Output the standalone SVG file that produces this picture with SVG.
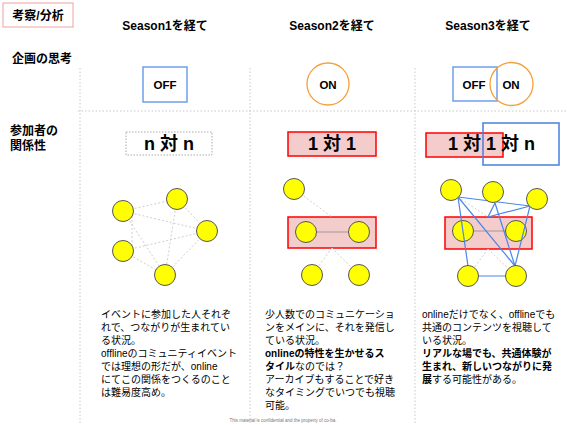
<svg xmlns="http://www.w3.org/2000/svg" width="567" height="425" viewBox="0 0 567 425">
<style>
text{font-family:"Liberation Sans","Noto Sans CJK JP",sans-serif;fill:#000}
.h{font-weight:bold;font-size:12px}
.big{font-weight:bold;font-size:18px}
.sw{font-weight:bold;font-size:11.5px}
.body{font-size:10px}
.b{font-weight:bold}
.div{stroke:#c8c8c8;stroke-width:1;stroke-dasharray:1.5,2;fill:none}
.node{fill:#ffff00;stroke:#555;stroke-width:1}
.dot{stroke:#cfcfcf;stroke-width:1;stroke-dasharray:2,2;fill:none}
.solid{stroke:#9a9a9a;stroke-width:1;fill:none}
.blue{stroke:#4a86e8;stroke-width:1.2;fill:none}
.pink{fill:#f4cccc;stroke:#ff0000;stroke-width:1.5}
</style>
<rect width="567" height="425" fill="#fff"/>
<g id="grid">
<line class="div" x1="80" y1="68" x2="80" y2="425"/>
<line class="div" x1="250" y1="68" x2="250" y2="425"/>
<line class="div" x1="415" y1="68" x2="415" y2="425"/>
<line class="div" x1="78" y1="111" x2="567" y2="111"/>
</g>
<g id="title">
<rect x="3" y="3" width="70" height="24" fill="#fff" stroke="#f0a0a0" stroke-width="1"/>
<text class="h" x="38" y="20" text-anchor="middle">考察/分析</text>
</g>
<g id="headers">
<text class="h" x="165" y="30" text-anchor="middle">Season1を経て</text>
<text class="h" x="332" y="30" text-anchor="middle">Season2を経て</text>
<text class="h" x="488" y="30" text-anchor="middle">Season3を経て</text>
<text class="h" x="12" y="63">企画の思考</text>
<text class="h" x="10" y="135">参加者の</text>
<text class="h" x="10" y="150">関係性</text>
</g>
<g id="s1-off">
<rect x="143" y="67" width="44" height="35" fill="#fff" stroke="#6d9eeb" stroke-width="1.5"/>
<text class="sw" x="165" y="88.5" text-anchor="middle">OFF</text>
</g>
<g id="s2-on">
<circle cx="328" cy="84" r="21" fill="#fff" stroke="#f6a03a" stroke-width="1.3"/>
<text class="sw" x="328" y="88.5" text-anchor="middle">ON</text>
</g>
<g id="s3-offon">
<rect x="453" y="67" width="44" height="34" fill="#fff" stroke="#6d9eeb" stroke-width="1.5"/>
<circle cx="511.5" cy="84" r="21.5" fill="none" stroke="#f6a03a" stroke-width="1.3"/>
<text class="sw" x="474" y="88.5" text-anchor="middle">OFF</text>
<text class="sw" x="511" y="88.5" text-anchor="middle">ON</text>
</g>
<g id="s1-label">
<rect x="126" y="132" width="86" height="23" fill="#fff" stroke="#aaa" stroke-width="1" stroke-dasharray="1.5,1.5"/>
<text class="big" x="169" y="150" text-anchor="middle">n 対 n</text>
</g>
<g id="s2-label">
<rect class="pink" x="288" y="132" width="88" height="24"/>
<text class="big" x="332" y="150" text-anchor="middle">1 対 1</text>
</g>
<g id="s3-label">
<rect class="pink" x="426" y="133" width="77" height="24"/>
<rect x="483" y="123" width="76" height="42" fill="none" stroke="#4a7fe0" stroke-width="1.5"/>
<text class="big" x="448" y="150">1 対 1 対 n</text>
</g>
<g id="s2-pair">
<rect class="pink" x="288" y="217" width="88" height="31"/>
</g>
<g id="s3-pair">
<rect class="pink" x="445" y="217" width="87" height="32"/>
</g>
<g id="connectors">
<line class="dot" x1="123" y1="211" x2="177" y2="199"/>
<line class="dot" x1="123" y1="211" x2="207" y2="231"/>
<line class="dot" x1="132" y1="216" x2="132" y2="246"/>
<line class="dot" x1="123" y1="211" x2="165" y2="275"/>
<line class="dot" x1="177" y1="199" x2="207" y2="231"/>
<line class="dot" x1="177" y1="199" x2="165" y2="275"/>
<line class="dot" x1="207" y1="231" x2="123" y2="251"/>
<line class="dot" x1="207" y1="231" x2="165" y2="275"/>
<line class="dot" x1="123" y1="251" x2="165" y2="275"/>
<line class="dot" x1="294" y1="189" x2="332" y2="217"/>
<line class="solid" x1="306" y1="232" x2="359" y2="232"/>
<line class="dot" x1="332" y1="248" x2="312" y2="275"/>
<line class="dot" x1="332" y1="248" x2="359" y2="275"/>
<line class="solid" x1="463" y1="231" x2="516" y2="231"/>
<line class="dot" x1="458" y1="197" x2="488" y2="217"/>
<line class="dot" x1="488" y1="249" x2="468" y2="276"/>
<line class="dot" x1="488" y1="249" x2="516" y2="276"/>
</g>
<g id="s3-mid-nodes">
<circle class="node" cx="463" cy="231" r="10.5"/>
<circle class="node" cx="516" cy="231" r="10.5"/>
</g>
<g id="s3-blue-connectors">
<line class="blue" x1="458" y1="197" x2="530" y2="206"/>
<line class="blue" x1="495" y1="203" x2="488" y2="217"/>
<line class="blue" x1="488" y1="217" x2="530" y2="206"/>
<line class="blue" x1="495" y1="203" x2="515" y2="266"/>
<line class="blue" x1="458" y1="197" x2="468" y2="266"/>
<line class="blue" x1="458" y1="197" x2="515" y2="266"/>
<line class="blue" x1="530" y1="206" x2="515" y2="266"/>
<line class="blue" x1="468" y1="276" x2="516" y2="276"/>
</g>
<g id="s1-nodes">
<circle class="node" cx="123" cy="211" r="10.5"/>
<circle class="node" cx="177" cy="199" r="10.5"/>
<circle class="node" cx="207" cy="231" r="10.5"/>
<circle class="node" cx="123" cy="251" r="10.5"/>
<circle class="node" cx="165" cy="275" r="10.5"/>
</g>
<g id="s2-nodes">
<circle class="node" cx="294" cy="189" r="10.5"/>
<circle class="node" cx="306" cy="232" r="10.5"/>
<circle class="node" cx="359" cy="232" r="10.5"/>
<circle class="node" cx="312" cy="275" r="10.5"/>
<circle class="node" cx="359" cy="275" r="10.5"/>
</g>
<g id="s3-nodes">
<circle class="node" cx="451" cy="190" r="10.5"/>
<circle class="node" cx="493" cy="192" r="10.5"/>
<circle class="node" cx="537" cy="199" r="10.5"/>
<circle class="node" cx="468" cy="276" r="10.5"/>
<circle class="node" cx="516" cy="276" r="10.5"/>
</g>
<g id="text-s1" class="body">
<text class="body" x="101" y="318">イベントに参加した人それぞ</text>
<text class="body" x="101" y="331">れで、つながりが生まれてい</text>
<text class="body" x="101" y="344">る状況。</text>
<text class="body" x="101" y="357">offlineのコミュニティイベント</text>
<text class="body" x="101" y="370">では理想の形だが、online</text>
<text class="body" x="101" y="383">にてこの関係をつくるのこと</text>
<text class="body" x="101" y="396">は難易度高め。</text>
</g>
<g id="text-s2">
<text class="body" x="265" y="318">少人数でのコミュニケーショ</text>
<text class="body" x="265" y="331">ンをメインに、それを発信し</text>
<text class="body" x="265" y="344">ている状況。</text>
<text class="body b" x="265" y="357">onlineの特性を生かせるス</text>
<text class="body" x="265" y="370"><tspan class="b">タイル</tspan>なのでは？</text>
<text class="body" x="265" y="383">アーカイブもすることで好き</text>
<text class="body" x="265" y="396">なタイミングでいつでも視聴</text>
<text class="body" x="265" y="409">可能。</text>
</g>
<g id="text-s3">
<text class="body" x="422" y="318">onlineだけでなく、offlineでも</text>
<text class="body" x="422" y="331">共通のコンテンツを視聴して</text>
<text class="body" x="422" y="344">いる状況。</text>
<text class="body b" x="422" y="357">リアルな場でも、共通体験が</text>
<text class="body b" x="422" y="370">生まれ、新しいつながりに発</text>
<text class="body" x="422" y="383"><tspan class="b">展</tspan>する可能性がある。</text>
</g>
<g id="footer">
<text x="283" y="422" text-anchor="middle" font-size="4.5" style="fill:#777">This material is confidential and the property of co-ba.</text>
</g>
</svg>
